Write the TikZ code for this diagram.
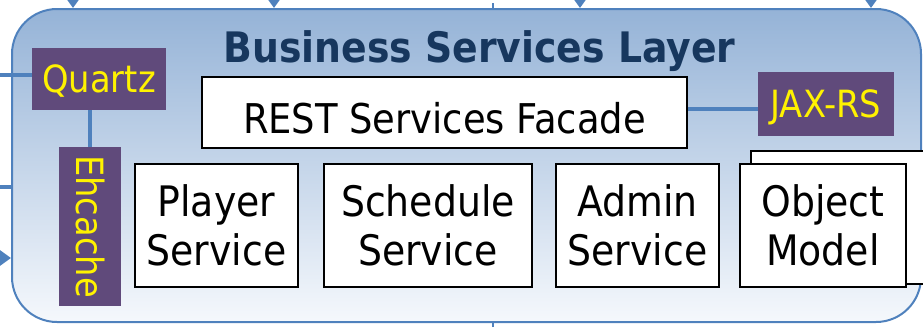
\documentclass[tikz,border=0pt]{standalone}
\usepackage{fontspec}
\setmainfont{DejaVu Sans Condensed}
\usepackage{xcolor}
\usepackage{tikz}
\usetikzlibrary{arrows.meta}

\definecolor{layerBlue}{RGB}{79,129,189}
\definecolor{layerTop}{RGB}{149,179,215}
\definecolor{layerBottom}{RGB}{245,248,252}
\definecolor{libPurple}{RGB}{96,74,123}
\definecolor{titleBlue}{RGB}{23,55,94}

\begin{document}
\begin{tikzpicture}[x=1pt, y=-1pt,
  svcbox/.style={draw=black, line width=1.5pt, fill=white, align=center,
    inner sep=0pt, minimum height=123pt, font=\fontsize{42}{49}\selectfont},
  libbox/.style={fill=libPurple, text=yellow, inner sep=0pt,
    font=\fontsize{37.5}{40}\selectfont, text height=27pt, text depth=0pt},
  link/.style={draw=layerBlue, line width=4pt},
  feed/.style={link, -{Triangle[width=15pt,length=11pt]}}]
  \useasboundingbox (0,0) rectangle (923,327);

  \node[draw=layerBlue, line width=2pt, rounded corners=45pt,
    top color=layerTop, bottom color=layerBottom,
    minimum width=909pt, minimum height=313pt] (layer) at (466.5,165.5) {};

  % incoming lines
  \foreach \x [count=\i] in {73,274,580,871} {
    \coordinate (top\i) at (\x,0);
    \draw[feed] (top\i) -- (top\i |- layer.north);
  }
  \coordinate (topStub) at (493,3);
  \coordinate (botStub) at (493,327);
  \draw[link, line width=1.5pt] (topStub) -- (topStub |- layer.north);
  \draw[link, line width=2pt] (botStub) -- (botStub |- layer.south);
  \coordinate (left1) at (0,75);
  \coordinate (left2) at (0,187);
  \coordinate (left3) at (0,258);
  \draw[link] (left2) -- (left2 -| layer.west);
  \draw[feed] (left3) -- (left3 -| layer.west);

  \node[font=\bfseries\fontsize{42}{44}\selectfont, text=titleBlue, anchor=base]
    (title) at (479.5,62) {Business Services Layer};

  \node[draw=black, line width=1.5pt, fill=white, inner sep=0pt,
    minimum width=485pt, minimum height=71pt, font=\fontsize{41}{49}\selectfont,
    text height=41pt, text depth=0pt] (rest) at (444.5,112.5) {REST Services Facade};
  \node[libbox, minimum width=136pt, minimum height=64pt] (jaxrs) at (826,104) {JAX-RS};
  \node[libbox, minimum width=134pt, minimum height=62pt] (quartz) at (99,79) {Quartz};
  \node[libbox, rotate=-90, minimum width=159pt, minimum height=62pt] (ehcache) at (90,226.5) {Ehcache};

  \draw[link] ([yshift=3.5pt]rest.east) -- ([yshift=3.5pt]rest.east -| jaxrs.west);
  \draw[link] (left1) -- (left1 -| quartz.west);
  \draw[link] (ehcache.west |- quartz.south) -- (ehcache.west);

  \node[draw=black, line width=1.5pt, fill=white, inner sep=0pt,
    minimum width=184pt, minimum height=133pt] (omBack) at (843,217.5) {};

  \node[svcbox, minimum width=163pt] (player) at (216.5,225.5) {Player\\Service};
  \node[svcbox, minimum width=208pt] (schedule) at (428,225.5) {Schedule\\Service};
  \node[svcbox, minimum width=163pt] (admin) at (637.5,225.5) {Admin\\Service};
  \node[svcbox, minimum width=166pt] (objModel) at (823,225.5) {Object\\Model};
\end{tikzpicture}
\end{document}
